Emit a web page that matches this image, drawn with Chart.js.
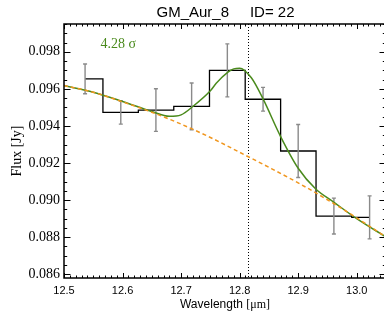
<!DOCTYPE html>
<html><head><meta charset="utf-8">
<script src="https://cdn.jsdelivr.net/npm/chart.js@4"></script>
<style>html,body{margin:0;padding:0;overflow:hidden;background:#fff;width:384px;height:318px}
canvas{display:block}</style>
</head><body>
<canvas id="c" width="388" height="318"></canvas>
<script>
// ---- text ----
const titleText = 'GM_Aur_8     ID= 22';
const sigmaText = '4.28 \u03c3';
const xTitleMain = 'Wavelength ';
const xTitleUnit = '[\u03bcm]';
const yTitleText = 'Flux [Jy]';

// ---- data ----
const wavelength = [12.536, 12.597, 12.657, 12.718, 12.779, 12.840, 12.900, 12.961, 13.022];
const flux       = [0.09654, 0.09473, 0.09486, 0.09506, 0.09700, 0.09544, 0.09265, 0.08914, 0.08907];
const fluxErr    = [0.00080, 0.00063, 0.00115, 0.00126, 0.00143, 0.00064, 0.00143, 0.00097, 0.00116];

const contWave = [12.50, 12.55, 12.60, 12.65, 12.70, 12.75, 12.80, 12.85, 12.90, 12.95, 13.00, 13.05];
const contFlux = [0.09618, 0.09582, 0.09530, 0.09474, 0.09410, 0.09338, 0.09258, 0.09177, 0.09093, 0.09002, 0.08904, 0.08801];

const modelWave = [12.50, 12.55, 12.60, 12.65, 12.68, 12.70, 12.72, 12.75, 12.76, 12.78, 12.79, 12.80, 12.82, 12.84, 12.87, 12.90, 12.93, 12.96, 13.00, 13.05];
const modelFlux = [0.09618, 0.09582, 0.09532, 0.09478, 0.09452, 0.09460, 0.09505, 0.09590, 0.09630, 0.09690, 0.09708, 0.09712, 0.09660, 0.09546, 0.09343, 0.09172, 0.09060, 0.08991, 0.08900, 0.08801];

const lineCenter = 12.815;
const xTicks = [12.5, 12.6, 12.7, 12.8, 12.9, 13.0];
const yTicks = [0.086, 0.088, 0.090, 0.092, 0.094, 0.096, 0.098];
const xRange = [12.5, 13.05];
const yRange = [0.0858, 0.0995];
const xMinorStep = 0.01;
const yMinorStep = 0.0005;

const GREEN = '#4a8a1c';
const ORANGE = '#f0961e';
const GRAY = '#8a8a8a';

const pts = (xs, ys) => xs.map((v, i) => ({x: v, y: ys[i]}));

const framePlugin = {
  id: 'frame',
  beforeDatasetsDraw(chart) {
    const {ctx, chartArea: a, scales: {x}} = chart;
    ctx.save();
    ctx.strokeStyle = '#000'; ctx.lineWidth = 1; ctx.setLineDash([1, 2]);
    const px = Math.round(x.getPixelForValue(lineCenter)) + 0.5;
    ctx.beginPath(); ctx.moveTo(px, a.top); ctx.lineTo(px, a.bottom); ctx.stroke();
    ctx.restore();
  },
  afterDatasetDraw(chart, args) {
    if (args.index !== 2) return;
    const {ctx, scales: {x, y}} = chart;
    ctx.save();
    ctx.strokeStyle = GRAY; ctx.lineWidth = 1.4;
    wavelength.forEach((w, i) => {
      const px = x.getPixelForValue(w);
      const top = y.getPixelForValue(flux[i] + fluxErr[i]);
      const bot = y.getPixelForValue(flux[i] - fluxErr[i]);
      ctx.beginPath();
      ctx.moveTo(px, top); ctx.lineTo(px, bot);
      ctx.moveTo(px - 2, top); ctx.lineTo(px + 2, top);
      ctx.moveTo(px - 2, bot); ctx.lineTo(px + 2, bot);
      ctx.stroke();
    });
    ctx.restore();
  },
  afterDraw(chart) {
    const {ctx, chartArea: a, scales: {x, y}} = chart;
    ctx.save();
    ctx.strokeStyle = '#000';
    ctx.lineWidth = 1.5;
    ctx.strokeRect(a.left, a.top, a.right - a.left, a.bottom - a.top);
    ctx.lineWidth = 1;
    ctx.beginPath();
    // x ticks
    const nx = Math.round((xRange[1] - xRange[0]) / xMinorStep);
    for (let k = 0; k <= nx; k++) {
      const v = xRange[0] + k * xMinorStep;
      const major = xTicks.some(t => Math.abs(t - v) < 1e-6);
      const len = major ? 5 : 2.5;
      const px = Math.round(x.getPixelForValue(v)) + 0.5;
      ctx.moveTo(px, a.bottom); ctx.lineTo(px, a.bottom - len);
      ctx.moveTo(px, a.top); ctx.lineTo(px, a.top + len);
    }
    // y ticks
    const y0 = Math.ceil(yRange[0] / yMinorStep - 1e-6);
    const y1 = Math.floor(yRange[1] / yMinorStep + 1e-6);
    for (let k = y0; k <= y1; k++) {
      const v = k * yMinorStep;
      const major = yTicks.some(t => Math.abs(t - v) < 1e-7);
      const len = major ? 6.5 : 3.2;
      const py = Math.round(y.getPixelForValue(v)) + 0.5;
      ctx.moveTo(a.left, py); ctx.lineTo(a.left + len, py);
      ctx.moveTo(a.right, py); ctx.lineTo(a.right - len, py);
    }
    ctx.stroke();

    // title
    ctx.fillStyle = '#000';
    ctx.font = '15px "Liberation Sans", Arial, sans-serif';
    ctx.textAlign = 'center'; ctx.textBaseline = 'alphabetic';
    ctx.fillText(titleText, 225.5, 17);

    // sigma label
    ctx.fillStyle = GREEN;
    ctx.font = '14px "Liberation Serif", "Times New Roman", serif';
    ctx.textAlign = 'left';
    ctx.fillText(sigmaText, 100.5, 48);

    // x title
    ctx.fillStyle = '#000';
    ctx.font = '12px "Liberation Sans", Arial, sans-serif';
    const w1 = ctx.measureText(xTitleMain).width;
    ctx.font = '12px "Liberation Serif", "Times New Roman", serif';
    const w2 = ctx.measureText(xTitleUnit).width;
    const cx = (a.left + 386) / 2;
    let sx = cx - (w1 + w2) / 2;
    ctx.font = '12px "Liberation Sans", Arial, sans-serif';
    ctx.fillText(xTitleMain, sx, 308);
    ctx.font = '12px "Liberation Serif", "Times New Roman", serif';
    ctx.fillText(xTitleUnit, sx + w1, 308);

    // y title
    ctx.save();
    ctx.translate(21, (a.top + a.bottom) / 2);
    ctx.rotate(-Math.PI / 2);
    ctx.font = '14px "Liberation Serif", "Times New Roman", serif';
    ctx.textAlign = 'center';
    ctx.fillText(yTitleText, 0, 0);
    ctx.restore();

    ctx.restore();
  }
};

new Chart(document.getElementById('c'), {
  type: 'line',
  data: {
    datasets: [
      {data: pts(contWave, contFlux), borderColor: ORANGE, borderWidth: 1.5, borderDash: [4, 3],
       pointRadius: 0, fill: false, cubicInterpolationMode: 'monotone'},
      {data: pts(modelWave, modelFlux), borderColor: GREEN, borderWidth: 1.5,
       pointRadius: 0, fill: false, cubicInterpolationMode: 'monotone'},
      {data: pts(wavelength, flux), borderColor: '#000', borderWidth: 1.3, stepped: 'middle',
       pointRadius: 0, fill: false}
    ]
  },
  options: {
    responsive: false,
    animation: false,
    events: [],
    layout: {padding: {top: 24, right: 2, left: 0, bottom: 0}},
    plugins: {legend: {display: false}, tooltip: {enabled: false}, title: {display: false}},
    scales: {
      x: {
        type: 'linear', min: xRange[0], max: xRange[1],
        grid: {display: false, drawTicks: false}, border: {display: false},
        afterBuildTicks: s => { s.ticks = xTicks.map(v => ({value: v})); },
        afterFit: s => { s.height = 40; },
        ticks: {padding: 6, color: '#000', maxRotation: 0, autoSkip: false,
          font: {family: '"Liberation Sans", Arial, sans-serif', size: 11},
          callback: v => v.toFixed(1)}
      },
      y: {
        type: 'linear', min: yRange[0], max: yRange[1],
        grid: {display: false, drawTicks: false}, border: {display: false},
        afterBuildTicks: s => { s.ticks = yTicks.map(v => ({value: v})); },
        afterFit: s => { s.width = 64; },
        ticks: {padding: 4, color: '#000', autoSkip: false,
          font: {family: '"Liberation Serif", "Times New Roman", serif', size: 14},
          callback: v => v.toFixed(3)}
      }
    }
  },
  plugins: [framePlugin]
});
</script>
</body></html>
